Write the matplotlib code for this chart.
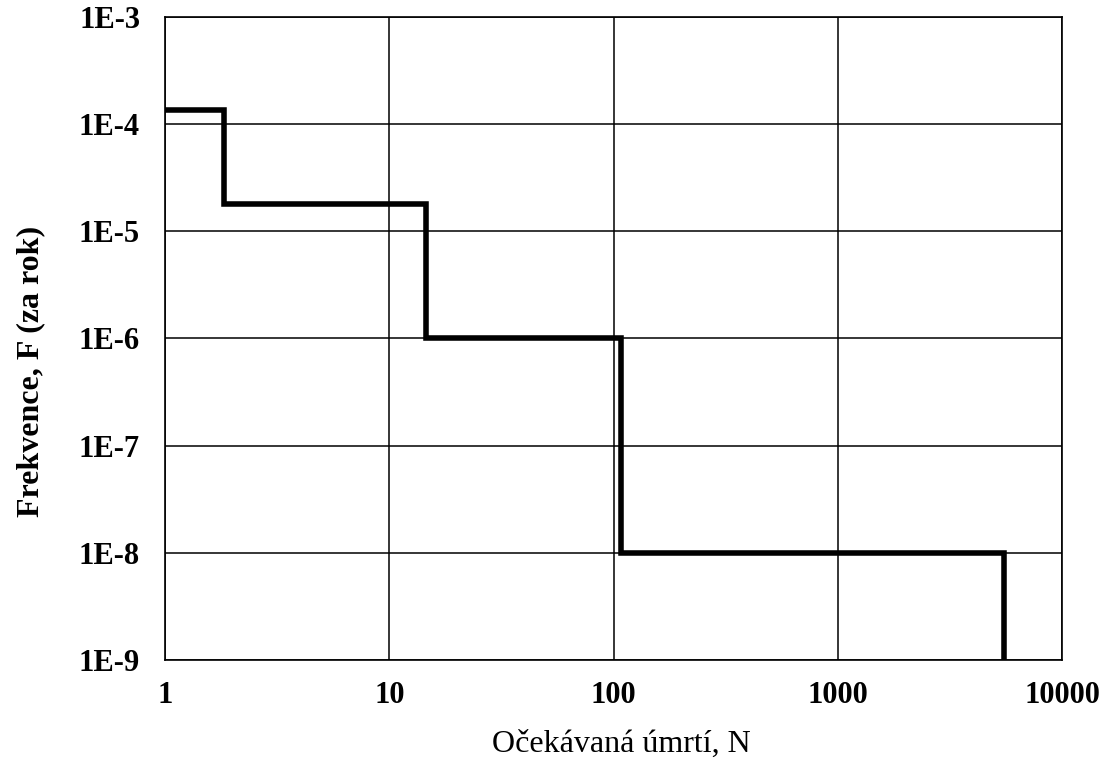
import numpy as np
import matplotlib
matplotlib.use("Agg")
import matplotlib.pyplot as plt
from matplotlib.ticker import NullLocator

plt.rcParams['font.family'] = ['Liberation Serif', 'DejaVu Serif']

# F-N curve data (step edges)
deaths = [1, 1.83, 14.6, 108, 5510]
freq = [1.35e-4, 1.78e-5, 1e-6, 1e-8, 1e-9]

x_ticks = [1, 10, 100, 1000, 10000]
x_labels = ["1", "10", "100", "1000", "10000"]
y_ticks = [1e-9, 1e-8, 1e-7, 1e-6, 1e-5, 1e-4, 1e-3]
y_labels = ["1E-9", "1E-8", "1E-7", "1E-6", "1E-5", "1E-4", "1E-3"]

fig = plt.figure(figsize=(11, 7.58), dpi=100)
ax = fig.add_axes([0.15, 0.1293, 0.8155, 0.8483])

ax.step(deaths, freq, where="post", color="black", lw=4.0, solid_joinstyle="miter")

ax.set_xscale("log")
ax.set_yscale("log")
ax.set_xlim(1, 10000)
ax.set_ylim(1e-9, 1e-3)

ax.set_xticks(x_ticks, x_labels, fontsize=22, fontweight="bold")
ax.set_yticks(y_ticks, y_labels, fontsize=22, fontweight="bold")
ax.xaxis.set_minor_locator(NullLocator())
ax.yaxis.set_minor_locator(NullLocator())
ax.tick_params(axis="x", length=0, pad=15)
ax.tick_params(axis="y", length=0, pad=18)

ax.grid(True, color="black", lw=1.1)
ax.set_axisbelow(True)
for s in ax.spines.values():
    s.set_color("black")
    s.set_linewidth(1.2)

ax.set_xlabel("Očekávaná úmrtí, N", fontsize=23)
ax.xaxis.set_label_coords(0.509, -0.108)
ax.set_ylabel("Frekvence, F (za rok)", fontsize=23, fontweight="bold")
ax.yaxis.set_label_coords(-0.133, 0.449)

fig.savefig("out.png", dpi=100)
